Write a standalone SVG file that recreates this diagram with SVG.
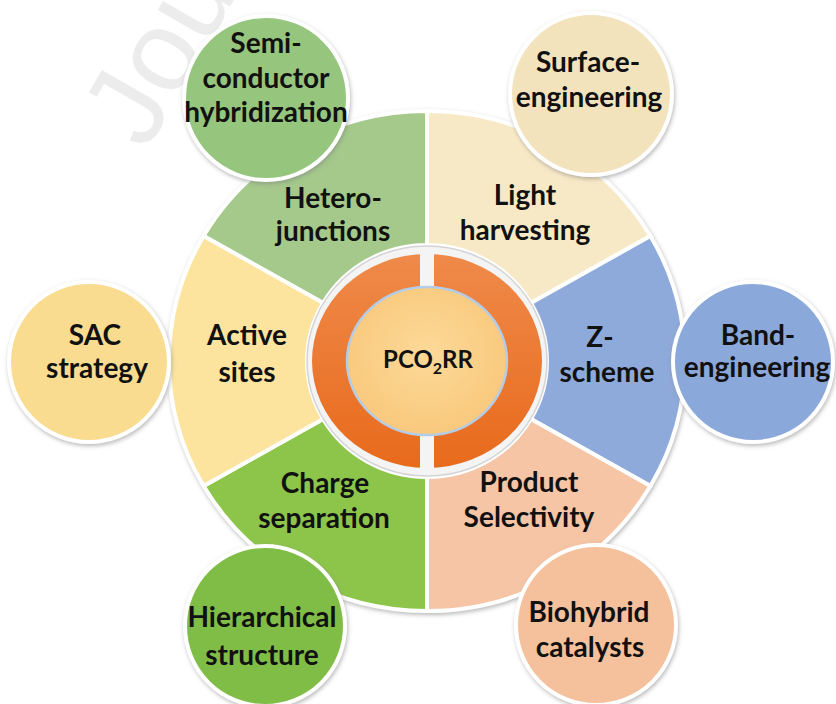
<svg xmlns="http://www.w3.org/2000/svg" width="836" height="704" viewBox="0 0 836 704">
<defs>
<style>
.lbl{font-family:Lato,"Open Sans","Liberation Sans",sans-serif;font-weight:700;font-size:28px;fill:#111;text-anchor:middle}
.seg{stroke:#ffffff;stroke-width:4;stroke-linejoin:round}
.bub{stroke:#ffffff;stroke-width:4}
.wm{font-family:"Liberation Sans",Arial,sans-serif;font-size:115px;fill:#ececec}
</style>
<filter id="sh" x="-20%" y="-20%" width="140%" height="140%">
<feDropShadow dx="1" dy="2" stdDeviation="2" flood-color="#808080" flood-opacity="0.55"/>
</filter>
<linearGradient id="gRing" x1="0" y1="0" x2="0" y2="1">
<stop offset="0" stop-color="#ef8a4a"/><stop offset="1" stop-color="#e86a1c"/>
</linearGradient>
<radialGradient id="gCore" cx="0.5" cy="0.45" r="0.6">
<stop offset="0" stop-color="#fdd998"/><stop offset="1" stop-color="#f8c77a"/>
</radialGradient>
</defs>
<rect width="836" height="704" fill="#ffffff"/>
<text class="wm" transform="translate(146,152) rotate(-60)">Jou</text>

<g id="segments" filter="url(#sh)">
<g id="seg-hetero"><path class="seg" fill="#a4c98b" d="M427,111 A258,250 0 0 0 203.6,236 L323.1,303 A120,116 0 0 1 427,245 Z"/></g>
<g id="seg-light"><path class="seg" fill="#f8e9c6" d="M427,111 A258,250 0 0 1 650.4,236 L530.9,303 A120,116 0 0 0 427,245 Z"/></g>
<g id="seg-z"><path class="seg" fill="#8eaadb" d="M650.4,236 A258,250 0 0 1 650.4,486 L530.9,419 A120,116 0 0 0 530.9,303 Z"/></g>
<g id="seg-product"><path class="seg" fill="#f6c5a5" d="M650.4,486 A258,250 0 0 1 427,611 L427,477 A120,116 0 0 0 530.9,419 Z"/></g>
<g id="seg-charge"><path class="seg" fill="#8dc54c" d="M427,611 A258,250 0 0 1 203.6,486 L323.1,419 A120,116 0 0 0 427,477 Z"/></g>
<g id="seg-active"><path class="seg" fill="#fce49f" d="M203.6,486 A258,250 0 0 1 203.6,236 L323.1,303 A120,116 0 0 0 323.1,419 Z"/></g>
</g>

<g id="core">
<ellipse cx="427" cy="361" rx="120" ry="115" fill="#f4f4f4" stroke="#d4d4d4" stroke-width="1.5"/>
<ellipse cx="427" cy="361" rx="115" ry="107" fill="url(#gRing)"/>
<rect x="420" y="248" width="14" height="226" fill="#f4f4f4"/>
<ellipse cx="427" cy="361" rx="80" ry="74" fill="url(#gCore)" stroke="#b3cde8" stroke-width="2.5"/>
<text class="lbl" x="428" y="368" style="font-size:24px">PCO<tspan dy="6" style="font-size:16px">2</tspan><tspan dy="-6">RR</tspan></text>
</g>

<g id="bubbles" filter="url(#sh)">
<g id="n-semi"><circle class="bub" cx="266" cy="98" r="82" fill="#96c57d"/></g>
<g id="n-surface"><circle class="bub" cx="591" cy="94" r="81" fill="#f3e3bd"/></g>
<g id="n-band"><circle class="bub" cx="753" cy="362" r="80" fill="#8ba8da"/></g>
<g id="n-bio"><circle class="bub" cx="596" cy="625" r="80" fill="#f5c09c"/></g>
<g id="n-hier"><circle class="bub" cx="265" cy="626" r="80" fill="#80bd46"/></g>
<g id="n-sac"><circle class="bub" cx="89" cy="362" r="80" fill="#f9dc8f"/></g>
</g>

<g id="labels">
<text class="lbl" x="333" y="208">Hetero-</text>
<text class="lbl" x="333" y="241">junctions</text>
<text class="lbl" x="525" y="205">Light</text>
<text class="lbl" x="525" y="240">harvesting</text>
<text class="lbl" x="600" y="347">Z-</text>
<text class="lbl" x="607" y="382">scheme</text>
<text class="lbl" x="529" y="492">Product</text>
<text class="lbl" x="529" y="527">Selectivity</text>
<text class="lbl" x="325" y="493">Charge</text>
<text class="lbl" x="324" y="528">separation</text>
<text class="lbl" x="247" y="345">Active</text>
<text class="lbl" x="247" y="382">sites</text>
<text class="lbl" x="266" y="53">Semi-</text>
<text class="lbl" x="266" y="88">conductor</text>
<text class="lbl" x="266" y="122">hybridization</text>
<text class="lbl" x="588" y="72">Surface-</text>
<text class="lbl" x="589" y="107">engineering</text>
<text class="lbl" x="758" y="345">Band-</text>
<text class="lbl" x="757" y="377">engineering</text>
<text class="lbl" x="589" y="622">Biohybrid</text>
<text class="lbl" x="590" y="657">catalysts</text>
<text class="lbl" x="262" y="627">Hierarchical</text>
<text class="lbl" x="262" y="665">structure</text>
<text class="lbl" x="95" y="345">SAC</text>
<text class="lbl" x="97" y="378">strategy</text>
</g>
</svg>
